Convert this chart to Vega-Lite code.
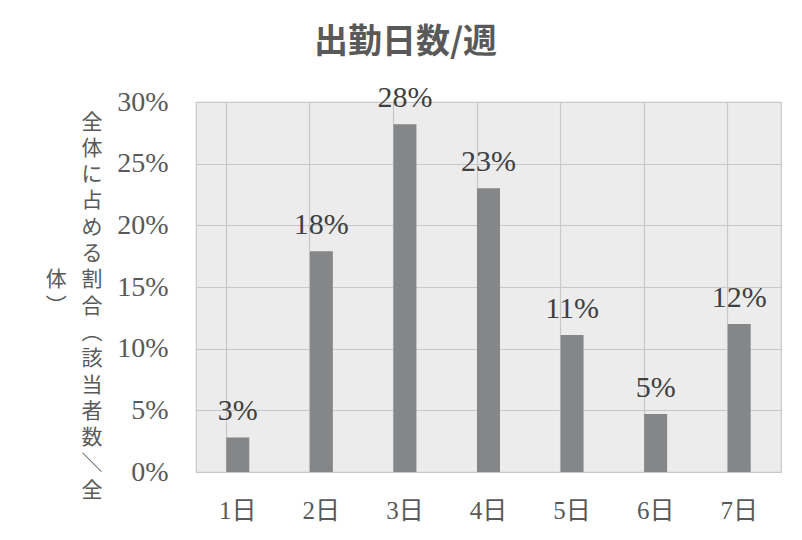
{
  "$schema": "https://vega.github.io/schema/vega-lite/v6.json",
  "width": 585,
  "height": 370,
  "autosize": {"type": "none"},
  "padding": {"left": 196, "top": 102, "right": 21, "bottom": 68},
  "background": "white",
  "title": {
    "text": "出勤日数/週",
    "font": "Noto Sans CJK JP",
    "fontSize": 34,
    "fontWeight": "bold",
    "color": "#595959",
    "anchor": "middle",
    "baseline": "middle",
    "offset": 6,
    "dx": -83
  },
  "data": {
    "values": [
      {"day": "1日", "value": 0.028},
      {"day": "2日", "value": 0.179},
      {"day": "3日", "value": 0.282},
      {"day": "4日", "value": 0.23},
      {"day": "5日", "value": 0.111},
      {"day": "6日", "value": 0.047},
      {"day": "7日", "value": 0.12}
    ]
  },
  "config": {
    "view": {"fill": "#ececec", "stroke": "#c8c8c8", "strokeWidth": 1.2}
  },
  "encoding": {
    "x": {
      "field": "day",
      "type": "nominal",
      "sort": null,
      "scale": {"paddingInner": 0.725, "paddingOuter": 0.3625},
      "axis": {
        "title": null,
        "labelAngle": 0,
        "labelFont": "Liberation Serif, Noto Sans CJK JP",
        "labelFontSize": 25,
        "labelColor": "#595959",
        "labelPadding": 26,
        "ticks": false,
        "domain": false,
        "grid": true,
        "bandPosition": 0,
        "gridColor": "#c8c8c8",
        "gridWidth": 1.2
      }
    },
    "y": {
      "field": "value",
      "type": "quantitative",
      "scale": {"domain": [0, 0.3], "nice": false},
      "axis": {
        "values": [0, 0.05, 0.1, 0.15, 0.2, 0.25, 0.3],
        "format": ".0%",
        "labelFont": "Liberation Serif",
        "labelFontSize": 28,
        "labelColor": "#595959",
        "labelPadding": 28,
        "ticks": false,
        "domain": false,
        "gridColor": "#c8c8c8",
        "gridWidth": 1.2,
        "title": ["全", "体", "に", "占", "め", "る", "体\u2002\u2009割", "︶\u2002\u2009合", "︵", "該", "当", "者", "数", "＼", "全"],
        "titleFont": "Noto Sans CJK JP",
        "titleFontSize": 21,
        "titleFontWeight": "normal",
        "titleColor": "#595959",
        "titleAngle": 0,
        "titleAlign": "right",
        "titleBaseline": "top",
        "titleLineHeight": 26.3,
        "titleX": -94,
        "titleY": 9
      }
    }
  },
  "layer": [
    {"mark": {"type": "bar", "color": "#858688"}},
    {
      "mark": {
        "type": "text",
        "baseline": "alphabetic",
        "dy": -17,
        "font": "Liberation Serif",
        "fontSize": 30,
        "color": "#404040"
      },
      "encoding": {"text": {"field": "value", "type": "quantitative", "format": ".0%"}}
    }
  ]
}
